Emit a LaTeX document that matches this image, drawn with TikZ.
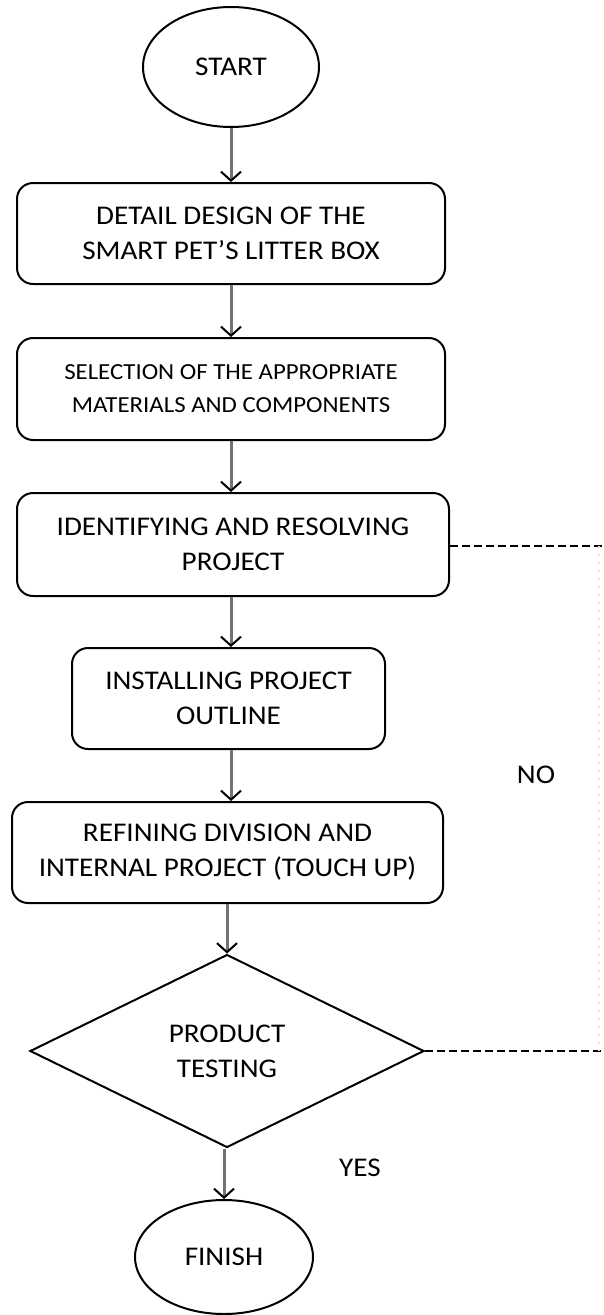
\documentclass[tikz,border=0pt]{standalone}
\usepackage{fontspec}
\setmainfont{Carlito}[FakeStretch=1.08]
\usetikzlibrary{shapes.geometric,arrows.meta,calc}
\newcommand\mytxt{\fontsize{27}{35}\selectfont}
\newcommand\mysmall{\fontsize{23}{33}\selectfont}
\tikzset{
  proc/.style={draw=black, line width=2pt, rounded corners=16pt, align=center,
    inner sep=0pt, minimum height=101pt, font=\mytxt},
  term/.style={draw=black, ellipse, line width=2pt, inner sep=0pt, font=\mytxt},
  decide/.style={draw=black, diamond, line width=2pt, inner sep=0pt, align=center,
    minimum width=394pt, minimum height=193pt, font=\mytxt},
  flow/.style={draw={rgb,255:red,115;green,115;blue,115}, line width=3pt,
    -{Straight Barb[black, length=9pt, width=20pt, line width=2pt]}},
  loopline/.style={draw=black, line width=2pt, dash pattern=on 8pt off 4pt},
  faint/.style={draw={rgb,255:red,225;green,225;blue,225}, line width=1.2pt, dash pattern=on 2pt off 6pt},
  lbl/.style={font=\mytxt, inner sep=0pt}
}
\begin{document}
\begin{tikzpicture}[x=1pt,y=-1pt]
\useasboundingbox (0,0) rectangle (604,1315);
\node[term, minimum width=176pt, minimum height=120pt] (start) at (231,67) {START};
\node[proc, minimum width=428pt] (b1) at (231,233.5) {DETAIL DESIGN OF THE\\SMART PET’S LITTER BOX};
\node[proc, minimum width=428pt, minimum height=102pt, font=\mysmall] (b2) at (231,389) {SELECTION OF THE APPROPRIATE\\MATERIALS AND COMPONENTS};
\node[proc, minimum width=432pt, minimum height=103pt] (b3) at (233,544.5) {IDENTIFYING AND RESOLVING\\PROJECT};
\node[proc, minimum width=313pt] (b4) at (228.5,698.5) {INSTALLING PROJECT\\OUTLINE};
\node[proc, minimum width=431pt] (b5) at (227.5,852.5) {REFINING DIVISION AND\\INTERNAL PROJECT (TOUCH UP)};
\node[decide] (d) at (227,1051) {PRODUCT\\TESTING};
\node[term, minimum width=178pt, minimum height=114pt] (finish) at (224,1257) {FINISH};
\node[lbl] (no) at (536,775) {NO};
\node[lbl] (yes) at (360,1168) {YES};
\coordinate (r1) at (604,546);
\coordinate (r2) at (604,1051);
\coordinate (v1) at (599,546);
\coordinate (v2) at (599,1051);

\draw[flow] (start.south) -- (start.south |- b1.north);
\draw[flow] (b1.south) -- (b1.south |- b2.north);
\draw[flow] (b2.south) -- (b2.south |- b3.north);
\draw[flow] (b3.south -| b1.south) -- (b1.south |- b4.north);
\draw[flow] (b4.south -| b1.south) -- (b1.south |- b5.north);
\draw[flow] (b5.south -| d.north) -- (d.north);
\draw[flow] (d.south -| finish.north) -- (finish.north);

\draw[loopline] (b3.east |- r1) -- (r1);
\draw[loopline] (d.east) -- (r2);
\draw[faint] (v1) -- (v2);
\end{tikzpicture}
\end{document}
